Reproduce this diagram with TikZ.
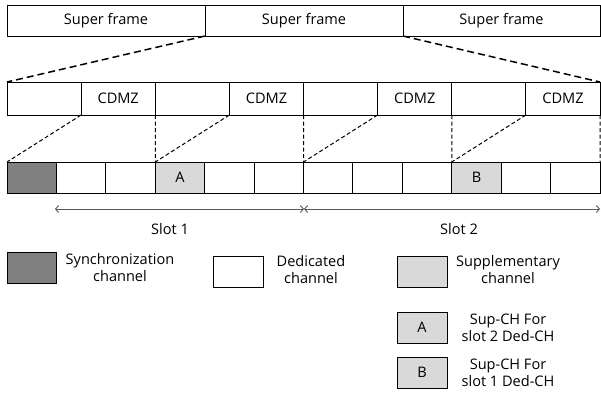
\documentclass[tikz,border=0pt]{standalone}
\usepackage{fontspec}
\setmainfont{Open Sans}
\usetikzlibrary{arrows.meta}
\begin{document}
\begin{tikzpicture}[x=1bp,y=-1bp,
  font=\fontsize{14.6}{17}\selectfont,
  box/.style={draw=black, line width=0.9bp, anchor=north west, inner sep=0pt, outer sep=0pt},
  superbox/.style={box, minimum height=31bp},
  framebox/.style={box, minimum width=74.125bp, minimum height=33bp},
  chbox/.style={box, minimum width=49.42bp, minimum height=31bp},
  legbox/.style={box, minimum width=50bp, minimum height=31bp},
  syncfill/.style={fill=black!50},
  supfill/.style={fill=black!15},
  zoomline/.style={line width=1.5bp, dash pattern=on 7bp off 4bp},
  fineline/.style={line width=1bp, dash pattern=on 4bp off 2.5bp},
  slotarrow/.style={draw=black!65, line width=0.9bp, {Straight Barb[length=3bp,width=7bp]}-{Straight Barb[length=3bp,width=7bp]}},
  legtext/.style={align=center, anchor=center}
]
\useasboundingbox (0,0) rectangle (601,401);

% super frames
\node[superbox, minimum width=198bp] (sf1) at (7,5) {Super frame};
\node[superbox, minimum width=198bp] (sf2) at (205,5) {Super frame};
\node[superbox, minimum width=197bp] (sf3) at (403,5) {Super frame};

% frames with CDMZ
\foreach \i in {1,...,8} {
  \pgfmathsetmacro{\xx}{7+74.125*(\i-1)}
  \ifodd\i
    \node[framebox] (f\i) at (\xx,82) {};
  \else
    \node[framebox] (f\i) at (\xx,82) {CDMZ};
  \fi
}

% channels
\foreach \i in {1,...,12} {
  \pgfmathsetmacro{\xx}{7+49.42*(\i-1)}
  \node[chbox] (c\i) at (\xx,162) {};
}
\node[chbox, syncfill] at (c1.north west) {};
\node[chbox, supfill] (cA) at (c4.north west) {A};
\node[chbox, supfill] (cB) at (c10.north west) {B};

% zoom lines
\draw[zoomline] (sf2.south west) -- (f1.north west);
\draw[zoomline] (sf2.south east) -- (f8.north east);
\draw[fineline] (f1.south east) -- (c1.north west);
\draw[fineline] (f2.south east) -- (c4.north west);
\draw[fineline] (f3.south east) -- (c4.north west);
\draw[fineline] (f4.south east) -- (c7.north west);
\draw[fineline] (f5.south east) -- (c7.north west);
\draw[fineline] (f6.south east) -- (c10.north west);
\draw[fineline] (f7.south east) -- (c10.north west);
\draw[fineline] (f8.south east) -- (c12.north east);

% slots
\coordinate (s0) at (55,209);
\coordinate (s1) at (304,209);
\coordinate (s2) at (600,209);
\draw[slotarrow] (s0) -- (s1);
\draw[slotarrow] (s1) -- (s2);
\node (slot1) at (170,229) {Slot 1};
\node (slot2) at (459,229) {Slot 2};

% legend
\node[legbox, syncfill, minimum width=49bp] (lsync) at (7,252) {};
\node[legtext] (tsync) at (120,268) {Synchronization\\channel};
\node[legbox] (lded) at (213,256) {};
\node[legtext] (tded) at (311,270) {Dedicated\\channel};
\node[legbox, supfill] (lsup) at (397,256) {};
\node[legtext] (tsup) at (508,270) {Supplementary\\channel};
\node[legbox, supfill] (lA) at (397,312) {A};
\node[legtext] (tA) at (508,328) {Sup-CH For\\slot 2 Ded-CH};
\node[legbox, supfill] (lB) at (397,357) {B};
\node[legtext] (tB) at (508,373) {Sup-CH For\\slot 1 Ded-CH};
\end{tikzpicture}
\end{document}
